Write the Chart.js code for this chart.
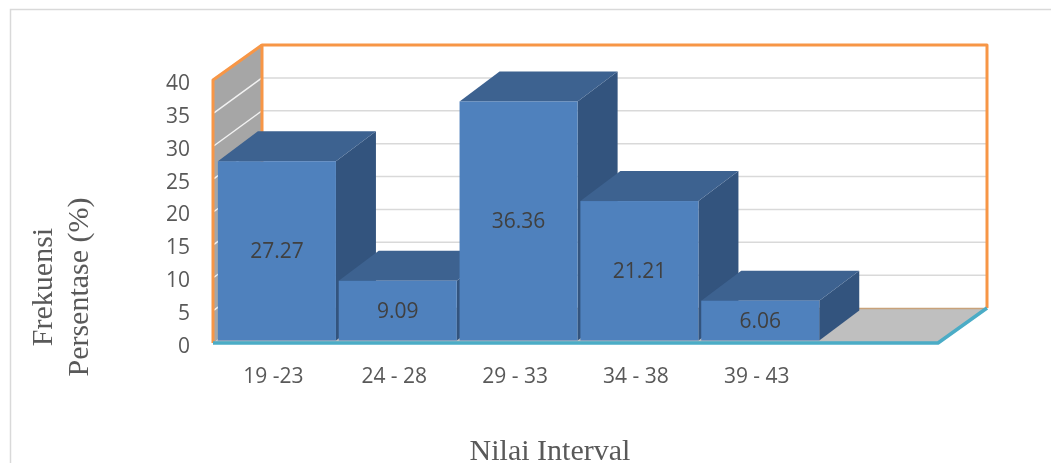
<!DOCTYPE html>
<html>
<head>
<meta charset="utf-8">
<script src="https://cdn.jsdelivr.net/npm/chart.js@4/dist/chart.umd.min.js"></script>
<style>
  html, body { margin: 0; padding: 0; background: #ffffff; }
  canvas { display: block; }
</style>
</head>
<body>
<canvas id="chart" width="1051" height="463"></canvas>
<script>
// Interval classes and the share of each class (%)
const categories = ['19 -23', '24 - 28', '29 - 33', '34 - 38', '39 - 43'];
const percentages = [27.27, 9.09, 36.36, 21.21, 6.06];
const yTicks = { min: 0, max: 40, step: 5 };
const yTitleLines = ['Frekuensi', 'Persentase (%)'];
const xTitle = 'Nilai Interval';

// One spare, unlabeled slot keeps the floor running past the last bar
const axisLabels = categories.concat(['']);

// 3D look: depth offsets of the box and of each bar
const WALL_DX = 49, WALL_DY = -35;
const BAR_DX = 40, BAR_DY = -30;
const BAR_SHIFT_X = 3.5, BAR_SHIFT_Y = -2.5;

const COLORS = {
  front: '#4f81bd',
  top: '#3d6290',
  side: '#33547e',
  sideWall: '#a6a6a6',
  floor: '#bfbfbf',
  grid: '#d9d9d9',
  wallEdge: '#f79646',
  floorEdge: '#4bacc6',
  text: '#595959',
  label: '#404040'
};

function poly(ctx, pts) {
  ctx.beginPath();
  ctx.moveTo(pts[0][0], pts[0][1]);
  for (let i = 1; i < pts.length; i++) ctx.lineTo(pts[i][0], pts[i][1]);
  ctx.closePath();
}

function line(ctx, x1, y1, x2, y2) {
  ctx.beginPath();
  ctx.moveTo(x1, y1);
  ctx.lineTo(x2, y2);
  ctx.stroke();
}

const box3d = {
  id: 'box3d',
  beforeDraw(chart) {
    const ctx = chart.ctx;
    ctx.save();
    ctx.strokeStyle = '#d9d9d9';
    ctx.lineWidth = 1.5;
    ctx.strokeRect(10.5, 9.5, 1200, 700);
    ctx.restore();
  },
  beforeDatasetsDraw(chart) {
    const { ctx, chartArea: a, scales: { y } } = chart;
    const L = a.left, R = a.right, T = y.getPixelForValue(yTicks.max), B = y.getPixelForValue(yTicks.min);
    ctx.save();

    // back wall
    ctx.fillStyle = '#ffffff';
    poly(ctx, [[L + WALL_DX, T + WALL_DY], [R + WALL_DX, T + WALL_DY], [R + WALL_DX, B + WALL_DY], [L + WALL_DX, B + WALL_DY]]);
    ctx.fill();

    // side wall
    ctx.fillStyle = COLORS.sideWall;
    poly(ctx, [[L, T], [L + WALL_DX, T + WALL_DY], [L + WALL_DX, B + WALL_DY], [L, B]]);
    ctx.fill();

    // gridlines on both walls
    y.ticks.forEach(t => {
      if (t.value <= yTicks.min || t.value >= yTicks.max) return;
      const py = y.getPixelForValue(t.value);
      ctx.strokeStyle = COLORS.grid;
      ctx.lineWidth = 1.5;
      line(ctx, L + WALL_DX, py + WALL_DY, R + WALL_DX, py + WALL_DY);
      ctx.strokeStyle = '#f2f2f2';
      line(ctx, L + 1, py, L + WALL_DX, py + WALL_DY);
    });

    // back wall outline
    ctx.strokeStyle = COLORS.wallEdge;
    ctx.lineWidth = 3;
    ctx.lineJoin = 'round';
    ctx.beginPath();
    ctx.moveTo(L + WALL_DX, B + WALL_DY);
    ctx.lineTo(L + WALL_DX, T + WALL_DY);
    ctx.lineTo(R + WALL_DX, T + WALL_DY);
    ctx.lineTo(R + WALL_DX, B + WALL_DY);
    ctx.stroke();
    // side wall outline
    ctx.beginPath();
    ctx.moveTo(L, B);
    ctx.lineTo(L, T);
    ctx.lineTo(L + WALL_DX, T + WALL_DY);
    ctx.stroke();

    // floor
    ctx.fillStyle = COLORS.floor;
    poly(ctx, [[L, B], [R, B], [R + WALL_DX, B + WALL_DY], [L + WALL_DX, B + WALL_DY]]);
    ctx.fill();
    ctx.strokeStyle = '#c8a27a';
    ctx.lineWidth = 1.5;
    line(ctx, L + WALL_DX, B + WALL_DY + 0.5, R + WALL_DX, B + WALL_DY + 0.5);

    ctx.strokeStyle = COLORS.floorEdge;
    ctx.lineWidth = 3.5;
    ctx.beginPath();
    ctx.moveTo(L, B);
    ctx.lineTo(R, B);
    ctx.lineTo(R + WALL_DX, B + WALL_DY);
    ctx.stroke();

    ctx.restore();
  },
  afterDatasetsDraw(chart) {
    const ctx = chart.ctx;
    const meta = chart.getDatasetMeta(0);
    const values = chart.data.datasets[0].data;
    ctx.save();
    meta.data.forEach((bar, i) => {
      const p = bar.getProps(['x', 'y', 'base', 'width'], true);
      const l = p.x - p.width / 2 + BAR_SHIFT_X;
      const r = p.x + p.width / 2 + BAR_SHIFT_X;
      const t = p.y + BAR_SHIFT_Y;
      const b = p.base + BAR_SHIFT_Y;

      ctx.fillStyle = COLORS.side;
      poly(ctx, [[r, t], [r + BAR_DX, t + BAR_DY], [r + BAR_DX, b + BAR_DY], [r, b]]);
      ctx.fill();

      ctx.fillStyle = COLORS.top;
      poly(ctx, [[l, t], [l + BAR_DX, t + BAR_DY], [r + BAR_DX, t + BAR_DY], [r, t]]);
      ctx.fill();

      ctx.fillStyle = COLORS.front;
      ctx.fillRect(l, t, r - l, b - t);

      ctx.fillStyle = COLORS.label;
      ctx.font = '21px "Open Sans", sans-serif';
      ctx.textAlign = 'center';
      ctx.textBaseline = 'middle';
      ctx.fillText(values[i].toFixed(2), (l + r) / 2, (t + b) / 2 + 1);
    });
    ctx.restore();
  },
  afterDraw(chart) {
    const ctx = chart.ctx;
    ctx.save();
    ctx.fillStyle = COLORS.text;
    ctx.font = '30px "Liberation Serif", "Times New Roman", serif';
    ctx.textAlign = 'center';
    ctx.textBaseline = 'alphabetic';
    const yCenter = 287;
    yTitleLines.forEach((txt, i) => {
      ctx.save();
      ctx.translate(52 + i * 36, yCenter);
      ctx.rotate(-Math.PI / 2);
      ctx.fillText(txt, 0, 0);
      ctx.restore();
    });
    ctx.fillText(xTitle, 550, 460);
    ctx.restore();
  }
};

new Chart(document.getElementById('chart'), {
  type: 'bar',
  data: {
    labels: axisLabels,
    datasets: [{
      data: percentages,
      backgroundColor: 'rgba(0,0,0,0)',
      borderWidth: 0,
      categoryPercentage: 1,
      barPercentage: 0.977
    }]
  },
  options: {
    responsive: false,
    animation: false,
    devicePixelRatio: 1,
    events: [],
    layout: { padding: { left: 0, top: 80, right: 113, bottom: 0 } },
    plugins: { legend: { display: false }, tooltip: { enabled: false } },
    scales: {
      x: {
        grid: { display: false, drawTicks: false },
        border: { display: false },
        ticks: { padding: 21, color: COLORS.text, font: { family: '"Open Sans", sans-serif', size: 21 } },
        afterFit(scale) { scale.height = 120; }
      },
      y: {
        min: yTicks.min,
        max: yTicks.max,
        grid: { display: false, drawTicks: false },
        border: { display: false },
        ticks: { stepSize: yTicks.step, padding: 23, labelOffset: 4, color: COLORS.text, font: { family: '"Open Sans", sans-serif', size: 21 } },
        afterFit(scale) { scale.width = 213; }
      }
    }
  },
  plugins: [box3d]
});
</script>
</body>
</html>
